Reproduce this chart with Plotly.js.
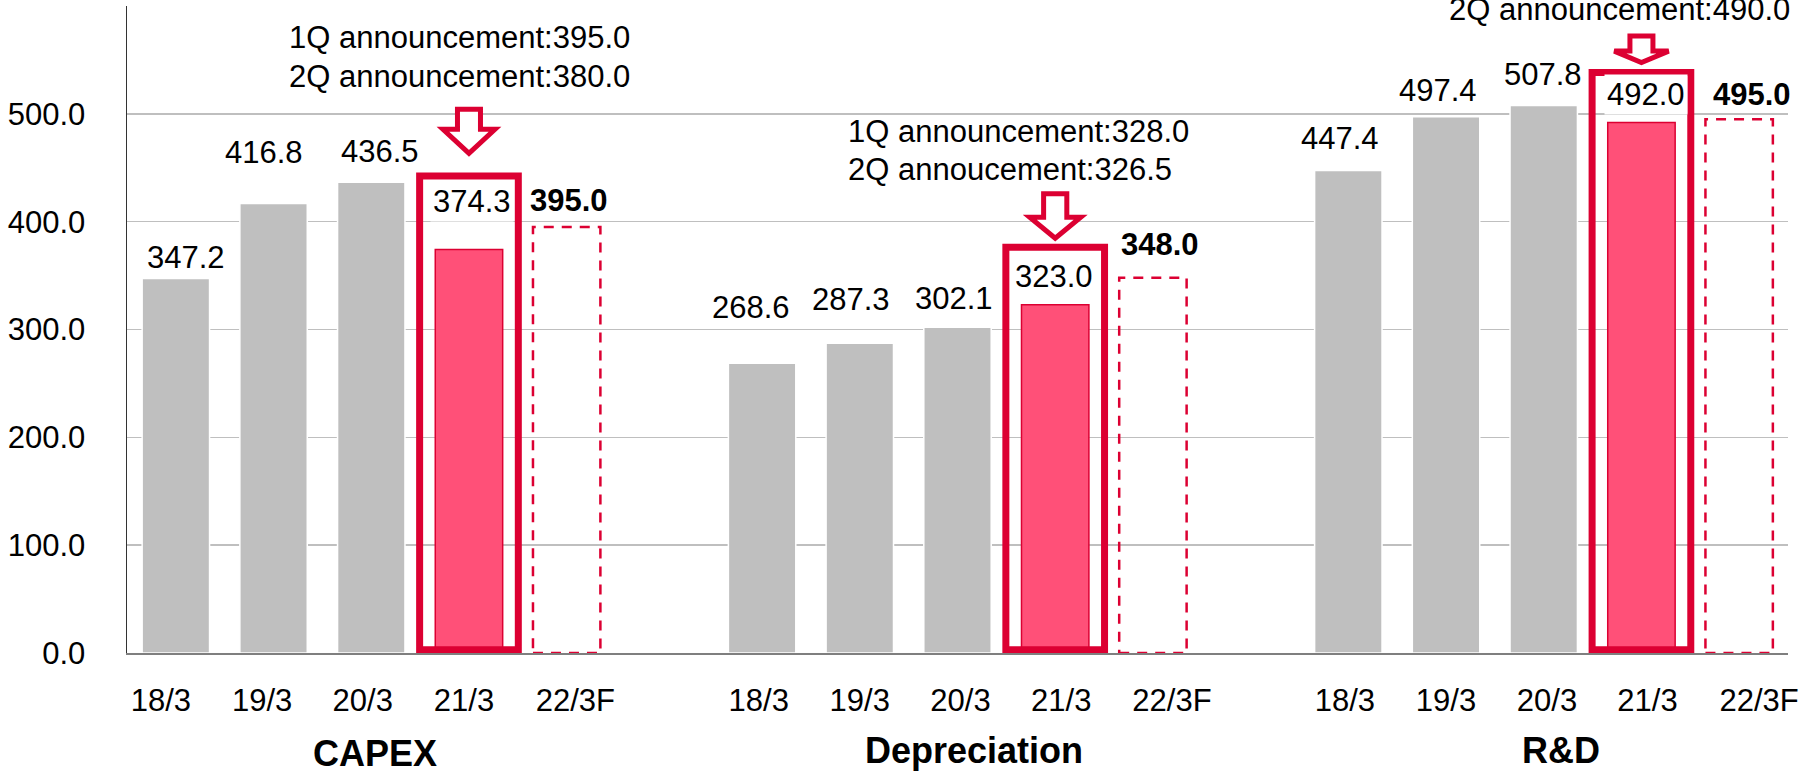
<!DOCTYPE html>
<html>
<head>
<meta charset="utf-8">
<script src="https://cdn.plot.ly/plotly-3.0.1.min.js"></script>
<style>
  html, body { margin: 0; padding: 0; background: #ffffff; }
  #chart { width: 1818px; height: 773px; }
</style>
</head>
<body>
<div id="chart"></div>
<script>
// ---- data (billion yen) ----
const groups = ['CAPEX', 'Depreciation', 'R&D'];
const periods = ['18/3', '19/3', '20/3', '21/3', '22/3F'];
const capexValues = [347.2, 416.8, 436.5, 374.3, 395.0];
const depreciationValues = [268.6, 287.3, 302.1, 323.0, 348.0];
const rndValues = [447.4, 497.4, 507.8, 492.0, 495.0];
const guidanceNotes = [
  ['1Q announcement:395.0', '2Q announcement:380.0'],
  ['1Q announcement:328.0', '2Q annoucement:326.5'],
  ['2Q announcement:490.0']
];
const yTicks = [0, 100, 200, 300, 400, 500];

// ---- layout constants ----
const seriesByGroup = [capexValues, depreciationValues, rndValues];
const SLOT = 6;              // five periods + one empty slot between groups
const RESULT_IDX = 3;        // latest actual (highlighted)
const FORECAST_IDX = 4;      // forecast (dashed outline)
const BAR_W = 0.69;
const GREY = '#BFBFBF', PINK = '#FF5078', CRIMSON = '#DC0032';
const FONT = 'Liberation Sans, Arial, sans-serif';
const M = { l: 127, r: 30, t: 6, b: 120 };
const W = 1818, H = 773;
const PLOT_H = H - M.t - M.b;
const X_RANGE = [-0.5, groups.length * SLOT - 1.5];
const PX_PER_UNIT = (W - M.l - M.r) / (X_RANGE[1] - X_RANGE[0]);

// label nudges in px: [dx, dy above bar top]
const labelShift = [
  [[10, 21], [-10, 51], [9, 31], [3, 48], [2, 27]],
  [[-11, 56], [-9, 44], [-4, 29], [-1, 28], [7, 33]],
  [[-8, 32], [-8, 26], [-1, 31], [5, 28], [13, 25]]
];
// period label nudges in px
const tickShift = [
  [-15, -11.4, -8.5, -5, 8.7],
  [-3.3, 0, 3, 6, 19.1],
  [-3.5, 0, 3.3, 6.1, 19.9]
];
const titleX = [2.036, 8.17, 14.18];
const titleYpx = [753, 750, 750];
const noteLeftPx = [289.3, 847.9, 1449.2];
const noteYpx = [[37.3, 76], [131.7, 170], [9.7]];
const frameTop = [442.4, 376.2, 538.3];
const arrowTip = [463.4, 384.6, 547.6];
const arrowDims = [
  { top: 44, head: 24, sw: 11.5, hw: 26 },
  { top: 44.5, head: 21, sw: 11.6, hw: 25.5 },
  { top: 26.4, head: 11.4, sw: 11.5, hw: 27.2 }
];

const pos = (g, i) => g * SLOT + i;
const pxToPaperY = p => (H - M.b - p) / PLOT_H;

// ---- traces ----
const greyX = [], greyY = [], pinkX = [], pinkY = [];
seriesByGroup.forEach((vals, g) => {
  vals.forEach((v, i) => {
    if (i < RESULT_IDX) { greyX.push(pos(g, i)); greyY.push(v); }
    else if (i === RESULT_IDX) { pinkX.push(pos(g, i)); pinkY.push(v); }
  });
});

const traces = [
  {
    type: 'bar', x: greyX, y: greyY, width: BAR_W,
    marker: { color: GREY, line: { color: '#FFFFFF', width: 1.5 } },
    hoverinfo: 'skip', showlegend: false
  },
  {
    type: 'bar', x: pinkX, y: pinkY, width: BAR_W,
    marker: { color: PINK, line: { color: CRIMSON, width: 1.5 } },
    hoverinfo: 'skip', showlegend: false
  }
];

// ---- shapes: forecast outlines, highlight frames, arrows ----
const shapes = [];
seriesByGroup.forEach((vals, g) => {
  const xf = pos(g, FORECAST_IDX);
  shapes.push({
    type: 'rect', xref: 'x', yref: 'y',
    x0: xf - BAR_W / 2, x1: xf + BAR_W / 2, y0: 0, y1: vals[FORECAST_IDX],
    line: { color: CRIMSON, width: 2.5, dash: '10px,8px' },
    fillcolor: 'rgba(0,0,0,0)'
  });
  const xr = pos(g, RESULT_IDX);
  shapes.push({
    type: 'rect', xref: 'x', yref: 'y',
    x0: xr - 0.505, x1: xr + 0.505, y0: 3, y1: frameTop[g],
    line: { color: CRIMSON, width: 7 },
    fillcolor: 'rgba(0,0,0,0)'
  });
  const a = arrowDims[g];
  shapes.push({
    type: 'path', xref: 'x', yref: 'y',
    xsizemode: 'pixel', ysizemode: 'pixel',
    xanchor: xr, yanchor: arrowTip[g],
    path: `M ${-a.sw} ${a.top} L ${a.sw} ${a.top} L ${a.sw} ${a.head} L ${a.hw} ${a.head} ` +
          `L 0 0 L ${-a.hw} ${a.head} L ${-a.sw} ${a.head} Z`,
    line: { color: CRIMSON, width: 5 },
    fillcolor: '#FFFFFF'
  });
});

// ---- annotations ----
const annotations = [];
seriesByGroup.forEach((vals, g) => {
  vals.forEach((v, i) => {
    const isForecast = i === FORECAST_IDX;
    const txt = v.toFixed(1);
    annotations.push({
      xref: 'x', yref: 'y', x: pos(g, i), y: v,
      xshift: labelShift[g][i][0], yshift: labelShift[g][i][1],
      text: isForecast ? '<b>' + txt + '</b>' : txt,
      showarrow: false, xanchor: 'center', yanchor: 'middle',
      bgcolor: i === RESULT_IDX ? '#FFFFFF' : 'rgba(0,0,0,0)',
      borderpad: 2,
      font: { family: FONT, size: 31, color: '#000000' }
    });
  });
  annotations.push({
    xref: 'x', yref: 'paper', x: titleX[g], y: pxToPaperY(titleYpx[g]),
    text: '<b>' + groups[g] + '</b>', showarrow: false,
    xanchor: 'center', yanchor: 'middle',
    font: { family: FONT, size: 36, color: '#000000' }
  });
  guidanceNotes[g].forEach((line, k) => {
    annotations.push({
      xref: 'x', yref: 'paper',
      x: pos(0, 0) + (noteLeftPx[g] - (M.l + PX_PER_UNIT * 0.5)) / PX_PER_UNIT,
      xshift: -2,
      y: pxToPaperY(noteYpx[g][k]),
      text: line, showarrow: false, xanchor: 'left', yanchor: 'middle',
      font: { family: FONT, size: 31, color: '#000000' }
    });
  });
});

// period tick labels
const tickvals = [], ticktext = [];
groups.forEach((_, g) => {
  periods.forEach((p, i) => {
    tickvals.push(pos(g, i) + tickShift[g][i] / PX_PER_UNIT);
    ticktext.push(p);
  });
});

const layout = {
  width: W, height: H, autosize: false,
  margin: { l: M.l, r: M.r, t: M.t, b: M.b, pad: 0 },
  paper_bgcolor: '#FFFFFF', plot_bgcolor: '#FFFFFF',
  showlegend: false, barmode: 'overlay',
  font: { family: FONT, size: 31, color: '#000000' },
  xaxis: {
    range: X_RANGE, tickmode: 'array', tickvals: tickvals, ticktext: ticktext,
    ticks: '', ticklabelstandoff: 19,
    showgrid: false, zeroline: false,
    showline: true, linecolor: '#7F7F7F', linewidth: 2,
    tickfont: { family: FONT, size: 31, color: '#000000' },
    fixedrange: true
  },
  yaxis: {
    range: [0, 600], tickmode: 'array', tickvals: yTicks,
    ticktext: yTicks.map(v => v.toFixed(1)),
    ticks: '', ticklabelstandoff: 34,
    showgrid: true, gridcolor: '#BFBFBF', gridwidth: 1.5,
    zeroline: false,
    showline: true, linecolor: '#333333', linewidth: 1.5,
    tickfont: { family: FONT, size: 31, color: '#000000' },
    fixedrange: true
  },
  shapes: shapes,
  annotations: annotations
};

Plotly.newPlot('chart', traces, layout, { displayModeBar: false, staticPlot: true });
</script>
</body>
</html>
